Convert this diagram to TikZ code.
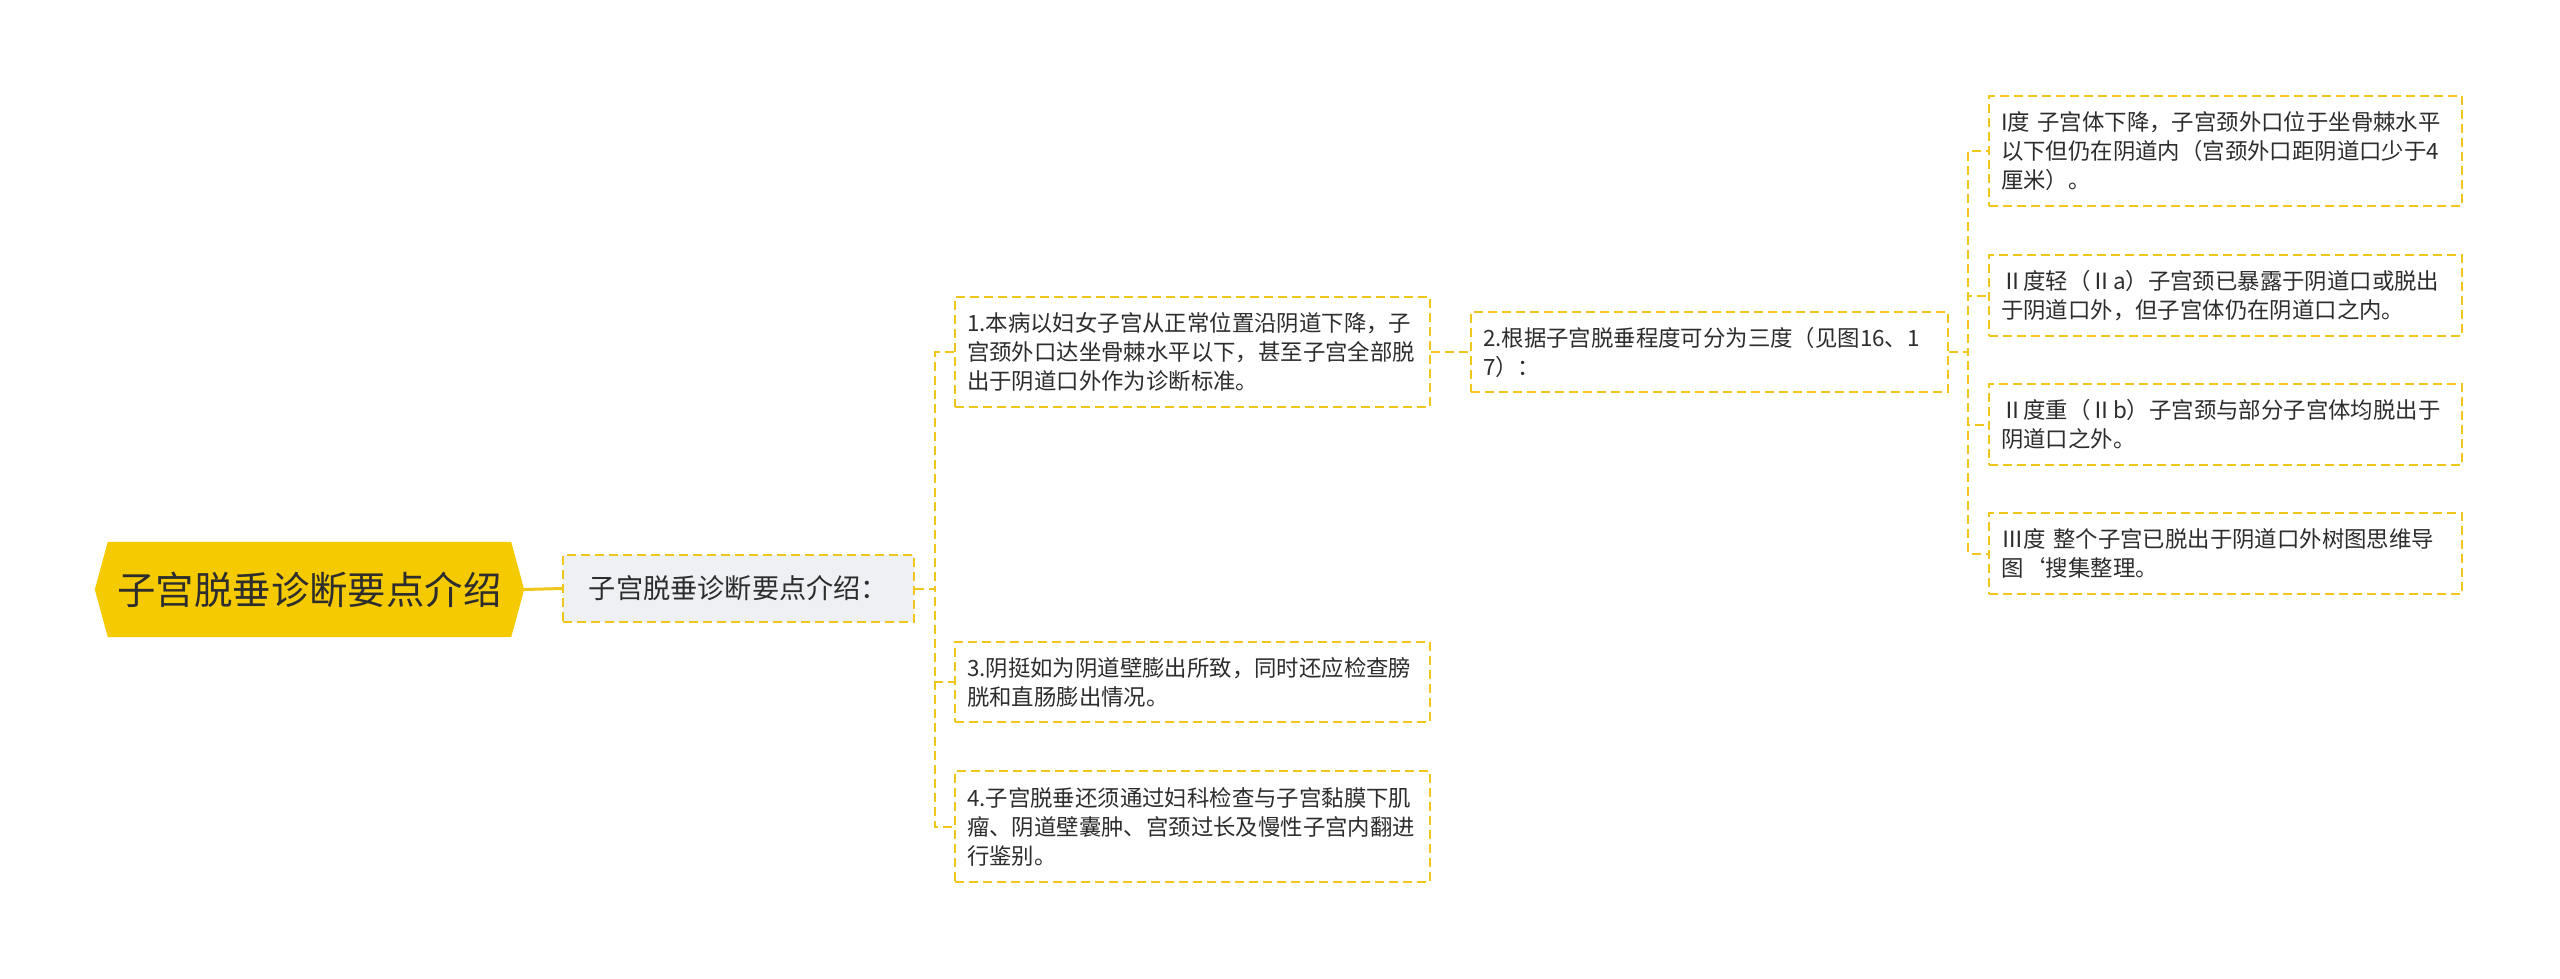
\documentclass[tikz,border=0pt]{standalone}
\usepackage{fontspec}
\setmainfont{Noto Sans CJK SC}
\definecolor{rootfill}{RGB}{246,202,0}
\definecolor{lineyel}{RGB}{241,198,28}
\definecolor{childfill}{RGB}{238,240,244}
\definecolor{txt}{RGB}{45,45,45}
\tikzset{
  conn/.style={draw=lineyel, line width=2pt, dash pattern=on 9pt off 5pt},
  leafbox/.style={draw=lineyel, line width=2pt, dash pattern=on 9pt off 5pt, fill=white,
    text=txt, align=left, inner xsep=12pt, inner ysep=0pt,
    font=\fontsize{22.4}{29}\selectfont},
  childbox/.style={draw=lineyel, line width=2pt, dash pattern=on 9pt off 5pt, fill=childfill,
    text=txt, minimum width=351pt, minimum height=67pt, inner sep=0pt,
    font=\fontsize{27.2}{34}\selectfont},
  rootbox/.style={minimum width=429pt, minimum height=95pt, inner sep=0pt, text=txt,
    font=\fontsize{38.4}{46}\selectfont},
}
\begin{document}
\begin{tikzpicture}[x=1pt,y=-1pt]
\useasboundingbox (0,0) rectangle (2560,978);
% root
\node[rootbox] (root) at (309.5,589.5) {};
\fill[rootfill] (root.west) -- ([xshift=13pt]root.north west) -- ([xshift=-13pt]root.north east)
  -- (root.east) -- ([xshift=-13pt]root.south east) -- ([xshift=13pt]root.south west) -- cycle;
\node[rootbox] at (root.center) {子宫脱垂诊断要点介绍};
% child
\node[childbox] (child) at (738.5,588.5) {子宫脱垂诊断要点介绍：};
\draw[lineyel, line width=3pt] (root.east) -- (child.west);
% first level leaves
\node[leafbox, minimum width=475pt, minimum height=110pt, text width=451pt] (b1) at (1192.5,352)
  {1.本病以妇女子宫从正常位置沿阴道下降，子\\宫颈外口达坐骨棘水平以下，甚至子宫全部脱\\出于阴道口外作为诊断标准。};
\node[leafbox, minimum width=475pt, minimum height=80pt, text width=451pt] (b3) at (1192.5,682)
  {3.阴挺如为阴道壁膨出所致，同时还应检查膀\\胱和直肠膨出情况。};
\node[leafbox, minimum width=475pt, minimum height=111pt, text width=451pt] (b4) at (1192.5,826.5)
  {4.子宫脱垂还须通过妇科检查与子宫黏膜下肌\\瘤、阴道壁囊肿、宫颈过长及慢性子宫内翻进\\行鉴别。};
\node[leafbox, minimum width=477pt, minimum height=80pt, text width=453pt] (b2) at (1709.5,352)
  {2.根据子宫脱垂程度可分为三度（见图16、1\\7）：};
% second level leaves
\node[leafbox, minimum width=473pt, minimum height=110pt, text width=449pt] (r1) at (2225.5,151)
  {I度 子宫体下降，子宫颈外口位于坐骨棘水平\\以下但仍在阴道内（宫颈外口距阴道口少于4\\厘米）。};
\node[leafbox, minimum width=473pt, minimum height=81pt, text width=449pt] (r2) at (2225.5,295.5)
  {Ⅱ度轻（Ⅱa）子宫颈已暴露于阴道口或脱出\\于阴道口外，但子宫体仍在阴道口之内。};
\node[leafbox, minimum width=473pt, minimum height=81pt, text width=449pt] (r3) at (2225.5,424.5)
  {Ⅱ度重（Ⅱb）子宫颈与部分子宫体均脱出于\\阴道口之外。};
\node[leafbox, minimum width=473pt, minimum height=81pt, text width=449pt] (r4) at (2225.5,553.5)
  {Ⅲ度 整个子宫已脱出于阴道口外树图思维导\\图\char"0060 搜集整理。};
% connectors
\foreach \t in {b1,b3,b4}
  \draw[conn] (child.east) -- ++(20pt,0) |- (\t.west);
\draw[conn] (b1.east) -- (b2.west);
\foreach \t in {r1,r2,r3,r4}
  \draw[conn] (b2.east) -- ++(19pt,0) |- (\t.west);
\end{tikzpicture}
\end{document}
